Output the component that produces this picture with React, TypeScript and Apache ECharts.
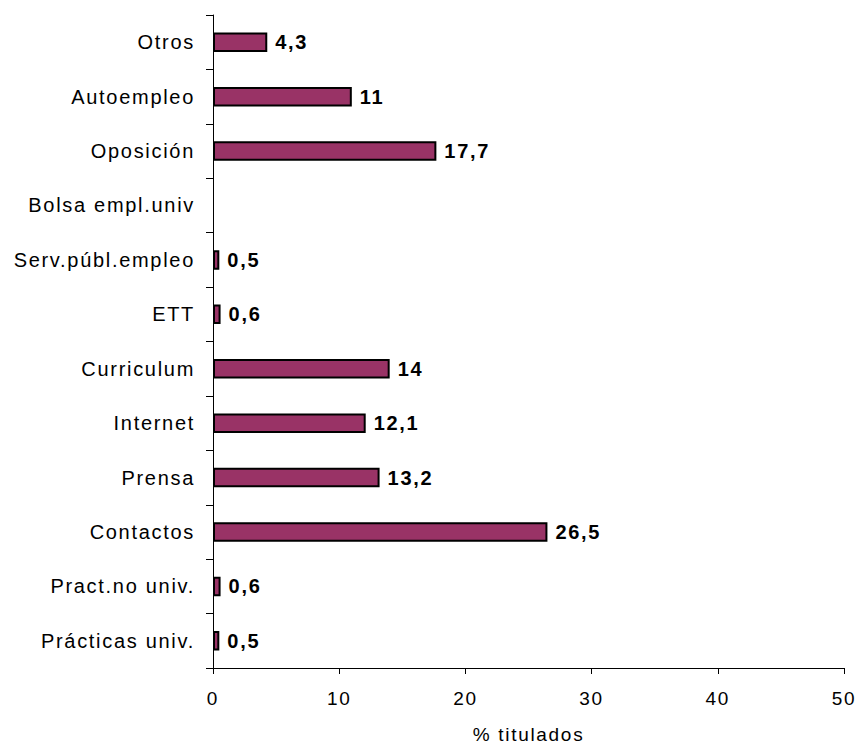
import React, { useEffect, useRef } from "react";
import * as echarts from "echarts";

const categories = [
  "Prácticas univ.",
  "Pract.no univ.",
  "Contactos",
  "Prensa",
  "Internet",
  "Curriculum",
  "ETT",
  "Serv.públ.empleo",
  "Bolsa empl.univ",
  "Oposición",
  "Autoempleo",
  "Otros",
];

const values: (number | null)[] = [0.5, 0.6, 26.5, 13.2, 12.1, 14, 0.6, 0.5, null, 17.7, 11, 4.3];

const xTicks = [0, 10, 20, 30, 40, 50];
const axisTitle = "% titulados";

const FONT = "'Liberation Sans', Arial, sans-serif";

export default function App() {
  const ref = useRef<HTMLDivElement>(null);

  useEffect(() => {
    if (!ref.current) return;
    const chart = echarts.init(ref.current, undefined, { renderer: "svg" });
    chart.setOption({
      animation: false,
      backgroundColor: "#ffffff",
      grid: { left: 213, right: 16, top: 15, bottom: 80, containLabel: false },
      xAxis: {
        type: "value",
        min: xTicks[0],
        max: xTicks[xTicks.length - 1],
        interval: 10,
        name: axisTitle,
        nameLocation: "middle",
        nameGap: 57,
        nameTextStyle: { color: "#000", fontSize: 19, fontFamily: FONT },
        axisLine: { show: true, lineStyle: { color: "#000", width: 1 } },
        axisTick: { show: true, length: 6, lineStyle: { color: "#000" } },
        axisLabel: { color: "#000", fontSize: 19, fontFamily: FONT, margin: 21 },
        splitLine: { show: false },
      },
      yAxis: {
        type: "category",
        data: categories,
        axisLine: { show: true, lineStyle: { color: "#000", width: 1 } },
        axisTick: { show: true, length: 7, alignWithLabel: false, lineStyle: { color: "#000" } },
        axisLabel: { color: "#000", fontSize: 20, fontFamily: FONT, margin: 18 },
        splitLine: { show: false },
      },
      series: [
        {
          type: "bar",
          data: values,
          barWidth: 19.5,
          itemStyle: { color: "#993366", borderColor: "#000", borderWidth: 2 },
          label: {
            show: true,
            position: "right",
            distance: 8,
            color: "#000",
            fontSize: 20,
            fontWeight: "bold",
            fontFamily: FONT,
            formatter: (p: any) =>
              p.value == null ? "" : String(p.value).replace(".", ","),
          },
        },
      ],
    });
    return () => chart.dispose();
  }, []);

  return (
    <div
      ref={ref}
      style={{
        position: "fixed",
        left: 0,
        top: 0,
        width: 860,
        height: 749,
        letterSpacing: "1.7px",
        background: "#fff",
      }}
    />
  );
}
